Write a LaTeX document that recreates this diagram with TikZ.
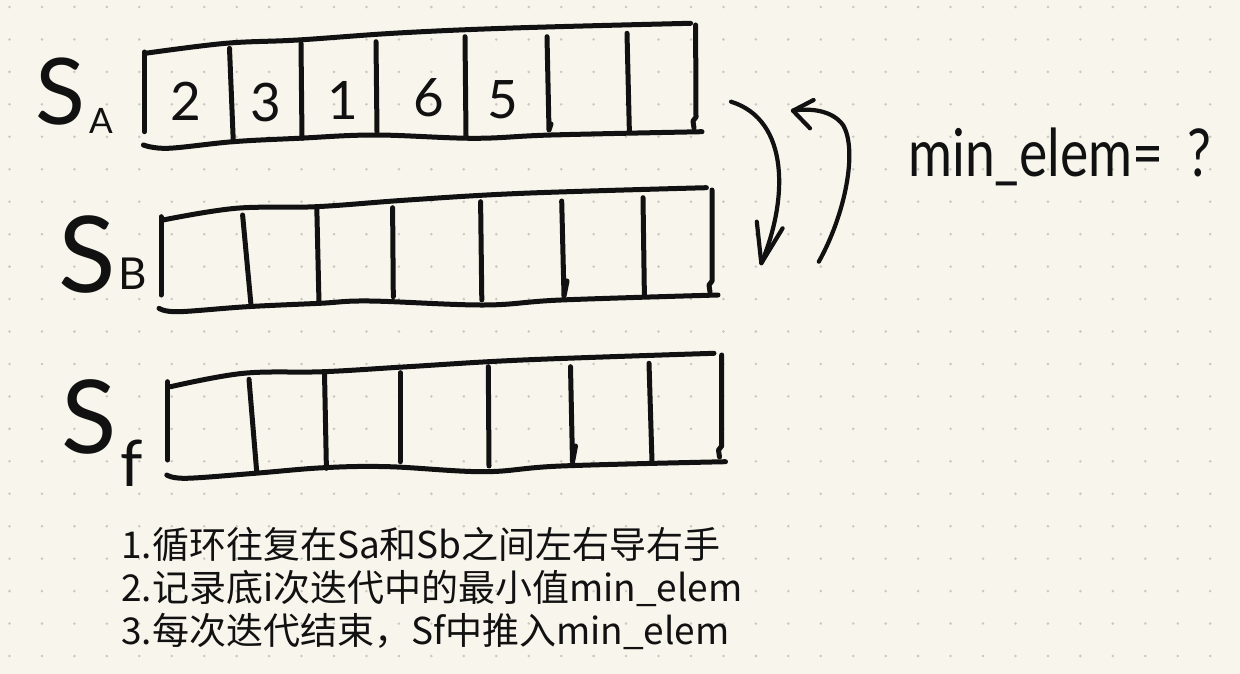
\documentclass[tikz,border=0pt]{standalone}
\usepackage{fontspec}
\usepackage{graphicx}
\newfontfamily\hand{Lato}
\newfontfamily\cjk{Noto Sans CJK SC}
\definecolor{paper}{HTML}{F7F5EC}
\definecolor{dotc}{HTML}{C9C8C0}
\definecolor{inkc}{HTML}{111111}
\begin{document}
\begin{tikzpicture}[x=1pt,y=-1pt,
  ink/.style={line width=5pt,line cap=round,line join=round,draw=inkc},
  arrowline/.style={line width=4.2pt,line cap=round,line join=round,draw=inkc},
  handtxt/.style={inner sep=0pt,text=inkc},
  cjktxt/.style={inner sep=0pt,text=inkc,font=\cjk\fontsize{37}{42}\selectfont}]
\fill[paper] (0,0) rectangle (1240,674);
\useasboundingbox (0,0) rectangle (1240,674);
\foreach \i in {0,...,37}{\foreach \j in {0,...,20}{
  \fill[dotc] ({9.5+32.45*\i},{7+32.45*\j}) circle (1.4pt);}}
% ---------- array S_A ----------
\draw[ink] (144.5,52) -- (144.5,131.7);
\draw[ink] plot[smooth,tension=0.6] coordinates {(145.3,53.3) (225.7,43.3) (298,40) (398,33) (513,28) (690.6,23.3)};
\draw[ink] (695.6,25) -- (696,117) -- (693,121) -- (694,128);
\draw[ink] plot[smooth,tension=0.6] coordinates {(143.4,145) (168,148.3) (233,141.7) (298.4,138.3) (375,135) (474,138.3) (551,135) (702,131.7)};
\draw[ink] (229.5,48.3) -- (233.3,141.7);
\draw[ink] (301,43.3) -- (302,138.3);
\draw[ink] (376,41.7) -- (377,131.7);
\draw[ink] (465,36.7) -- (466,136);
\draw[ink] (547,36.7) -- (549,130) -- (551,124);
\draw[ink] (627,33.3) -- (629.4,132.7);
% ---------- array S_B ----------
\draw[ink] (161,216.7) -- (161,295);
\draw[ink] plot[smooth,tension=0.6] coordinates {(163,220) (235.7,208.3) (316,206.7) (408,200) (522.7,193.3) (706.4,187.7)};
\draw[ink] (712,190) -- (712,281) -- (709,285) -- (710,292);
\draw[ink] plot[smooth,tension=0.6] coordinates {(159,308.3) (178,311.7) (247,306.7) (320,303.3) (369.6,301) (484,305) (561,300) (718,295)};
\draw[ink] (242.6,215) -- (251,305);
\draw[ink] (316.8,207.7) -- (319,303.3);
\draw[ink] (392.6,207.7) -- (393.3,296.7);
\draw[ink] (480.6,201.7) -- (481.8,300);
\draw[ink] (561.7,201) -- (564,296) -- (567,281);
\draw[ink] (643,197.7) -- (644.4,296.7);
% ---------- array S_f ----------
\draw[ink] (167.6,381.7) -- (167.6,460);
\draw[ink] plot[smooth,tension=0.6] coordinates {(170.6,386.7) (243.3,373.3) (323.7,371.7) (408,366.7) (522.7,360) (714,353.3)};
\draw[ink] (721.7,355) -- (721.7,446) -- (718.5,450) -- (719.5,457);
\draw[ink] plot[smooth,tension=0.6] coordinates {(166.8,475) (186,478.3) (254.8,473.3) (323.7,467.7) (388.8,466.7) (484,471.7) (561,466) (725.5,461.7)};
\draw[ink] (249,379.3) -- (256.7,471.7);
\draw[ink] (324.5,372.7) -- (326.4,468.3);
\draw[ink] (400.2,372.7) -- (400.2,461.7);
\draw[ink] (488.3,366.7) -- (489,466);
\draw[ink] (570.5,366.7) -- (572.5,462) -- (575.5,446);
\draw[ink] (649,363.3) -- (652,461.7);
% ---------- labels ----------
\node[handtxt,font=\hand\fontsize{92}{92}\selectfont] (SA) at (60,92) {S};
\node[handtxt,font=\hand\fontsize{35}{35}\selectfont] (SAsub) at (101,120.5) {A};
\node[handtxt,font=\hand\fontsize{106}{106}\selectfont] (SB) at (87,255) {S};
\node[handtxt,font=\hand\fontsize{44}{44}\selectfont] (SBsub) at (133,274) {B};
\node[handtxt,font=\hand\fontsize{102}{102}\selectfont] (SF) at (89,416.5) {S};
\node[handtxt,font=\hand\fontsize{64}{64}\selectfont] (SFsub) at (132,463) {f};
% ---------- digits ----------
\node[handtxt,font=\hand\fontsize{53}{53}\selectfont] (d1) at (186,101) {2};
\node[handtxt,font=\hand\fontsize{53}{53}\selectfont] (d2) at (266,103) {3};
\node[handtxt,font=\hand\fontsize{53}{53}\selectfont] (d3) at (343,100) {1};
\node[handtxt,font=\hand\fontsize{53}{53}\selectfont] (d4) at (429,98) {6};
\node[handtxt,font=\hand\fontsize{53}{53}\selectfont] (d5) at (503,100) {5};
% ---------- arrows ----------
\coordinate (a1s) at (731,101.7);
\coordinate (a1e) at (761.3,263.3);
\draw[arrowline] (a1s) .. controls (790,120) and (788,200) .. (a1e);
\draw[arrowline] (756.8,221.7) -- (a1e) -- (782.6,228.3);
\coordinate (a2s) at (818.8,261.7);
\coordinate (a2m) at (843,125);
\coordinate (a2e) at (793,110.7);
\draw[arrowline] (a2s) .. controls (845,215) and (858,150) .. (a2m) .. controls (832,110) and (810,108) .. (a2e);
\draw[arrowline] (813.6,100) -- (a2e) -- (810,128.3);
% ---------- min_elem ----------
\node[handtxt,anchor=base west,font=\hand\fontsize{66}{66}\selectfont] (minel) at (908,177) {\scalebox{0.81}[1]{min\_elem=\hspace{30pt}?}};
% ---------- notes ----------
\node[cjktxt,anchor=base west] (n1) at (121,558.5) {1.循环往复在Sa和Sb之间左右导右手};
\node[cjktxt,anchor=base west] (n2) at (121,601.3) {2.记录底i次迭代中的最小值min\_elem};
\node[cjktxt,anchor=base west] (n3) at (121,644) {3.每次迭代结束，Sf中推入min\_elem};
\end{tikzpicture}
\end{document}
